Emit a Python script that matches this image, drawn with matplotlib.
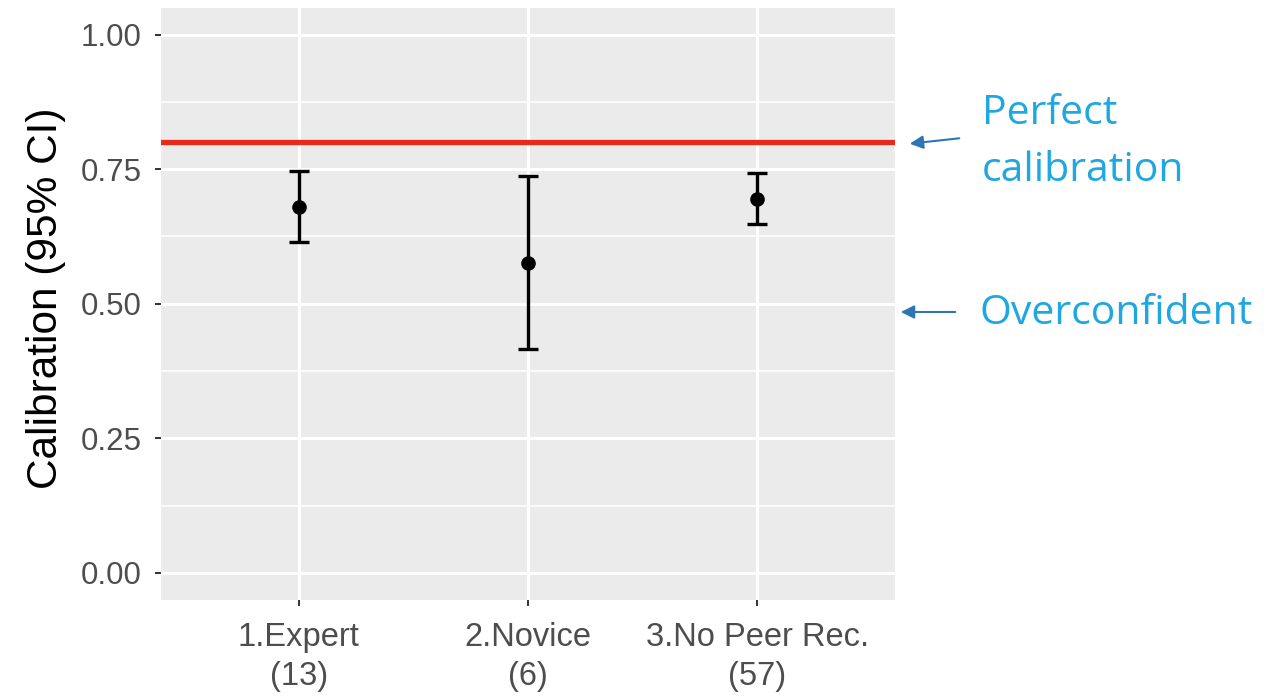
import numpy as np
import matplotlib
matplotlib.use("Agg")
from matplotlib import pyplot as plt

# groups and calibration estimates with 95% CI
groups = ["1.Expert\n(13)", "2.Novice\n(6)", "3.No Peer Rec.\n(57)"]
calib = [0.680, 0.576, 0.695]
ci_low = [0.614, 0.416, 0.648]
ci_high = [0.746, 0.737, 0.743]
perfect = 0.80
y_ticks = [0.00, 0.25, 0.50, 0.75, 1.00]

plt.rcParams['font.family'] = ['Liberation Sans', 'DejaVu Sans']

x = np.arange(1, len(groups) + 1)
calib = np.array(calib)
err = np.vstack([calib - np.array(ci_low), np.array(ci_high) - calib])

fig = plt.figure(figsize=(12.86, 6.99), dpi=100)
ax = fig.add_axes([0.1252, 0.142, 0.5708, 0.847])
ax.set_facecolor("#EBEBEB")
for s in ax.spines.values():
    s.set_visible(False)

ax.set_xlim(0.4, 3.6)
ax.set_ylim(-0.05, 1.05)
ax.set_yticks(y_ticks)
ax.set_yticklabels(["%.2f" % v for v in y_ticks])
ax.set_yticks([0.125, 0.375, 0.625, 0.875], minor=True)
ax.set_xticks(x)
ax.set_xticklabels(groups)

ax.grid(True, which="major", color="white", lw=2.2)
ax.grid(True, which="minor", axis="y", color="white", lw=1.1)
ax.set_axisbelow(True)
ax.tick_params(axis="both", which="major", length=4, width=1.4, color="#333333",
               labelcolor="#4D4D4D")
ax.tick_params(axis="y", labelsize=22.5, pad=10)
ax.tick_params(axis="x", labelsize=23.5, pad=12)
ax.tick_params(axis="y", which="minor", length=0)
for lab in ax.get_xticklabels():
    lab.set_linespacing(1.35)

ax.axhline(perfect, color="#E8291C", lw=3.8, zorder=2)
ax.errorbar(x, calib, yerr=err, fmt="o", color="black", ms=9.5, elinewidth=2.4,
            capsize=7.5, capthick=2.4, zorder=3)

ax.set_ylabel("Calibration (95% CI)", fontsize=30.5, color="black")
ax.yaxis.set_label_coords(-0.129, 0.51)

# annotations on the right
blue_txt = "#1EA7E1"
blue_arr = "#2E75B6"
fig.text(982 / 1286, 1 - 142 / 699, "Perfect\ncalibration", fontsize=29.5, color=blue_txt,
         family=["Open Sans", "DejaVu Sans"], va="center", ha="left", linespacing=1.55)
fig.text(979 / 1286, 1 - 314 / 699, "Overconfident", fontsize=29.5, color=blue_txt,
         family=["Open Sans", "DejaVu Sans"], va="center", ha="left")
fig.patches.append(matplotlib.patches.FancyArrowPatch(
    (962 / 1286, 1 - 138 / 699), (907 / 1286, 1 - 144 / 699),
    transform=fig.transFigure, arrowstyle="-|>,head_length=8,head_width=4",
    color=blue_arr, lw=1.5))
fig.patches.append(matplotlib.patches.FancyArrowPatch(
    (958 / 1286, 1 - 312 / 699), (898 / 1286, 1 - 312 / 699),
    transform=fig.transFigure, arrowstyle="-|>,head_length=8,head_width=4",
    color=blue_arr, lw=1.5))

fig.savefig("out.png", dpi=100)
